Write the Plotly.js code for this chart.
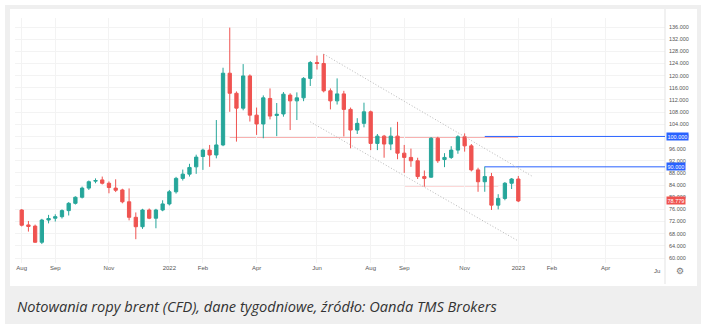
<!DOCTYPE html>
<html>
<head>
<meta charset="utf-8">
<script src="https://cdn.plot.ly/plotly-3.0.1.min.js"></script>
<style>
html,body{margin:0;padding:0;background:#ffffff;}
#chart{width:707px;height:330px;}
</style>
</head>
<body>
<div id="chart"></div>
<script>
// Weekly Brent CFD candles (Aug 2021 - Jan 2023)
const weeks = [
 "2021-08-02","2021-08-09","2021-08-16","2021-08-23","2021-08-30","2021-09-06","2021-09-13","2021-09-20","2021-09-27","2021-10-04",
 "2021-10-11","2021-10-18","2021-10-25","2021-11-01","2021-11-08","2021-11-15","2021-11-22","2021-11-29","2021-12-06","2021-12-13",
 "2021-12-20","2021-12-27","2022-01-03","2022-01-10","2022-01-17","2022-01-24","2022-01-31","2022-02-07","2022-02-14","2022-02-21",
 "2022-02-28","2022-03-07","2022-03-14","2022-03-21","2022-03-28","2022-04-04","2022-04-11","2022-04-18","2022-04-25","2022-05-02",
 "2022-05-09","2022-05-16","2022-05-23","2022-05-30","2022-06-06","2022-06-13","2022-06-20","2022-06-27","2022-07-04","2022-07-11",
 "2022-07-18","2022-07-25","2022-08-01","2022-08-08","2022-08-15","2022-08-22","2022-08-29","2022-09-05","2022-09-12","2022-09-19",
 "2022-09-26","2022-10-03","2022-10-10","2022-10-17","2022-10-24","2022-10-31","2022-11-07","2022-11-14","2022-11-21","2022-11-28",
 "2022-12-05","2022-12-12","2022-12-19","2022-12-26","2023-01-02"
];
const openP = [
 75.8,70.9,70.5,65.2,72.5,73.1,73.6,75.6,78.0,80.0,
 83.0,85.3,85.7,84.6,83.0,82.4,78.5,73.4,70.3,75.8,
 73.1,75.8,77.8,81.8,86.2,87.6,90.0,93.4,95.5,93.9,
 97.2,120.8,114.2,109.3,119.9,107.0,104.1,112.5,106.9,107.4,
 113.6,111.7,112.7,119.1,124.3,124.0,115.0,111.7,114.0,108.9,
 102.1,104.3,108.1,97.7,100.1,97.5,100.1,94.5,93.1,92.0,
 86.8,86.6,99.4,92.4,93.1,95.5,99.9,96.9,89.0,85.1,
 86.8,77.4,79.6,84.6,86.0
];
const highP = [
 76.1,72.2,71.0,72.9,74.2,74.4,76.0,78.4,80.3,83.5,
 85.5,86.2,86.8,85.2,85.9,82.8,82.9,75.0,76.2,76.3,
 76.2,79.0,82.4,86.7,89.1,91.0,94.0,96.0,97.2,105.4,
 122.6,135.8,114.8,123.8,120.4,109.5,113.5,115.8,111.0,114.6,
 114.2,114.5,119.5,124.8,126.6,127.1,115.8,119.1,115.0,109.5,
 106.0,111.1,108.5,100.8,100.5,103.0,104.8,97.2,96.0,93.0,
 88.8,99.8,99.9,94.5,96.8,100.4,101.0,97.5,89.7,90.1,
 88.0,81.0,85.0,86.3,87.0
];
const lowP = [
 70.4,68.7,65.0,64.6,71.4,72.0,73.0,74.0,77.6,79.6,
 82.4,84.6,84.2,81.3,81.7,78.0,72.4,66.2,69.6,72.8,
 69.8,75.4,77.3,81.2,85.5,86.8,87.7,89.0,90.0,92.8,
 96.8,108.1,98.3,108.6,104.9,100.5,99.4,105.6,100.1,106.5,
 102.1,105.4,111.6,116.6,122.0,114.5,108.9,110.5,100.0,96.1,
 100.8,103.0,95.5,95.5,93.0,95.5,92.5,88.0,90.0,86.0,
 83.5,86.4,91.3,89.9,92.6,94.3,95.0,88.5,81.8,81.8,
 75.8,76.0,79.0,82.7,78.4
];
const closeP = [
 70.8,70.4,65.2,72.5,73.0,73.6,75.6,78.0,80.0,83.0,
 85.1,85.5,84.6,83.2,82.3,78.5,73.4,70.3,75.8,73.1,
 75.8,77.8,81.8,86.2,87.6,89.8,93.2,95.5,93.9,97.2,
 120.8,114.2,109.3,119.9,107.0,104.1,112.7,106.7,107.3,113.9,
 111.7,112.7,119.1,124.3,124.0,115.0,111.7,114.0,108.9,102.1,
 104.3,108.1,97.7,100.1,97.5,100.1,94.5,93.1,92.0,86.8,
 86.2,99.4,92.0,93.1,95.5,99.9,96.9,89.0,85.1,86.8,
 77.4,79.6,84.6,86.0,78.779
];

// axis ticks
const xTickVals = ["2021-08-02","2021-09-06","2021-11-01","2022-01-03","2022-02-07","2022-04-04","2022-06-06",
                   "2022-08-01","2022-09-05","2022-11-07","2023-01-02","2023-02-06","2023-04-03"];
const xTickText = ["Aug","Sep","Nov","2022","Feb","Apr","Jun","Aug","Sep","Nov","2023","Feb","Apr"];
const yTickVals = [60,64,68,72,76,80,84,88,92,96,100,104,108,112,116,120,124,128,132,136];

// drawings (horizontal levels and channel)
const blueLevels = [100, 90];
const blueStart = "2022-11-28";
const pinkLevels = [
  {v: 99.7, from: "2022-03-07", to: "2023-01-02"},
  {v: 83.8, from: "2022-09-05", to: "2022-12-12"}
];
const channelUpper = {x: ["2022-06-13","2023-01-16"], y: [127.1, 87.0]};
const channelLower = {x: ["2022-05-30","2023-01-02"], y: [104.8, 65.6]};

const GREEN = "#26a69a", RED = "#ef5350", BLUE = "#2962ff";
const W = 707, H = 330, ML = 15, MR = 42, MT = 18, MB = 67;
const PW = W - ML - MR, PH = H - MT - MB;
const px = x => (x - ML) / PW;
const py = y => (H - MB - y) / PH;

const traces = [{
  type: "candlestick",
  x: weeks, open: openP, high: highP, low: lowP, close: closeP,
  increasing: {line: {color: GREEN, width: 1}, fillcolor: GREEN},
  decreasing: {line: {color: RED, width: 1}, fillcolor: RED},
  whiskerwidth: 0,
  hoverinfo: "skip",
  showlegend: false
}];

const shapes = [
  // outer gray frame and inner white chart card
  {type: "rect", xref: "paper", yref: "paper", x0: px(5), x1: px(701), y0: py(324), y1: py(5),
   fillcolor: "#efefef", line: {width: 0}, layer: "below"},
  {type: "rect", xref: "paper", yref: "paper", x0: px(10), x1: px(697), y0: py(286), y1: py(9),
   fillcolor: "#ffffff", line: {width: 0}, layer: "below"},
  // price-scale separator
  {type: "line", xref: "paper", yref: "paper", x0: 1, x1: 1, y0: py(284), y1: py(9),
   line: {color: "#e3e3e3", width: 1}}
];
pinkLevels.forEach(p => shapes.push({type: "line", xref: "x", yref: "y", x0: p.from, x1: p.to, y0: p.v, y1: p.v,
  line: {color: "rgba(239,83,80,0.45)", width: 1.5}, layer: "below"}));
blueLevels.forEach(v => shapes.push({type: "line", xref: "x", yref: "y", x0: blueStart, x1: "2023-06-04", y0: v, y1: v,
  line: {color: BLUE, width: 1}}));
[channelUpper, channelLower].forEach(c => shapes.push({type: "line", xref: "x", yref: "y",
  x0: c.x[0], x1: c.x[1], y0: c.y[0], y1: c.y[1], line: {color: "#b8b8b8", width: 1, dash: "1px,2px"}}));

const badgeFont = {family: "Liberation Sans, Arial, sans-serif", size: 5.5, color: "#ffffff"};
const annotations = [];
blueLevels.forEach(v => annotations.push({xref: "paper", yref: "y", x: 1, y: v, xanchor: "left", yanchor: "middle",
  text: v.toFixed(3), showarrow: false, bgcolor: BLUE, font: badgeFont, borderpad: 0.5, xshift: 1}));
const last = closeP[closeP.length - 1];
annotations.push({xref: "paper", yref: "y", x: 1, y: last, xanchor: "left", yanchor: "middle",
  text: last.toFixed(3), showarrow: false, bgcolor: RED, font: badgeFont, borderpad: 0.5, xshift: 1});
annotations.push({xref: "paper", yref: "paper", x: px(652), y: py(271), xanchor: "left", yanchor: "middle",
  text: "Ju", showarrow: false, font: {family: "Liberation Sans, Arial, sans-serif", size: 6, color: "#555"}});
annotations.push({xref: "paper", yref: "paper", x: px(680), y: py(271), xanchor: "center", yanchor: "middle",
  text: "⚙", showarrow: false, font: {family: "DejaVu Sans", size: 9, color: "#777"}});
annotations.push({xref: "paper", yref: "paper", x: px(15), y: py(306), xanchor: "left", yanchor: "middle",
  text: "<i>Notowania ropy brent (CFD), dane tygodniowe, źródło: Oanda TMS Brokers</i>", showarrow: false,
  font: {family: "Open Sans", size: 14.6, color: "#333333"}});

const layout = {
  width: W, height: H,
  margin: {l: ML, r: MR, t: MT, b: MB, pad: 0},
  paper_bgcolor: "#ffffff",
  plot_bgcolor: "rgba(0,0,0,0)",
  showlegend: false,
  xaxis: {
    type: "date", range: ["2021-07-26", "2023-06-04"],
    rangeslider: {visible: false},
    tickmode: "array", tickvals: xTickVals, ticktext: xTickText,
    showgrid: true, gridcolor: "#f3f3f3", gridwidth: 1,
    zeroline: false, showline: false, ticks: "",
    tickfont: {family: "Liberation Sans, Arial, sans-serif", size: 6, color: "#555555"},
    fixedrange: true
  },
  yaxis: {
    side: "right", range: [58.37, 138.96],
    tickmode: "array", tickvals: yTickVals, tickformat: ".3f",
    showgrid: true, gridcolor: "#f3f3f3", gridwidth: 1,
    zeroline: false, showline: false, ticks: "", ticklabelstandoff: 3,
    tickfont: {family: "Liberation Sans, Arial, sans-serif", size: 5.5, color: "#555555"},
    fixedrange: true
  },
  shapes: shapes,
  annotations: annotations
};

Plotly.newPlot("chart", traces, layout, {staticPlot: true, displayModeBar: false});
</script>
</body>
</html>
